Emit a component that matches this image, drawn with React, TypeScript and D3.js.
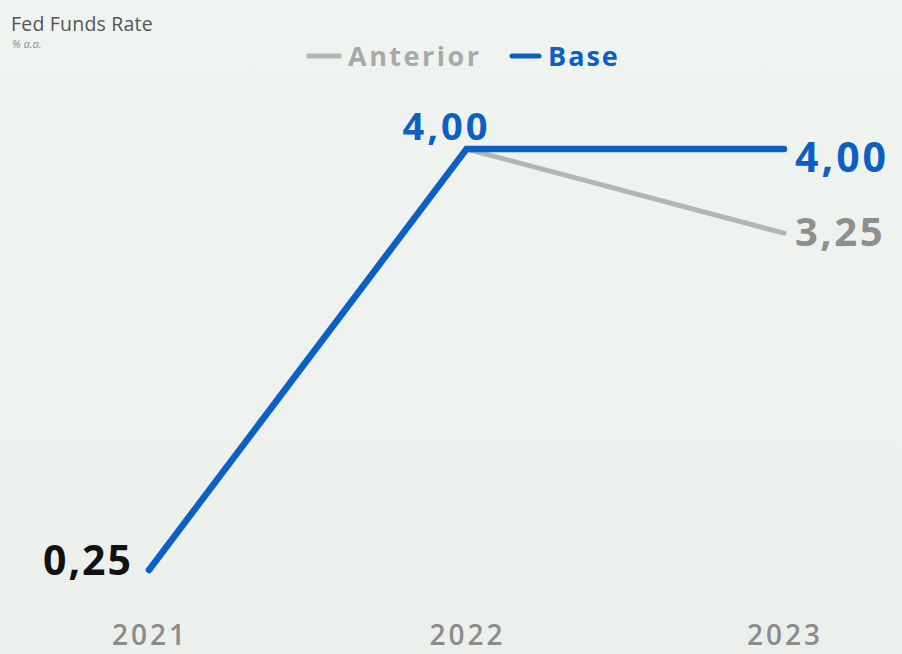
import React from "react";
import * as d3 from "d3";

const years = ["2021", "2022", "2023"];
const baseValues = [0.25, 4.0, 4.0];
const anteriorValues = [0.25, 4.0, 3.25];
const baseLabels = ["0,25", "4,00", "4,00"];
const anteriorLabels = ["", "", "3,25"];
const legendItems = ["Anterior", "Base"];

const W = 902;
const H = 654;
const BLUE = "#0c5fc4";
const GRAY = "#b4b6b4";
const FONT = "'Open Sans', 'DejaVu Sans', sans-serif";

export default function App() {
  const x = d3.scalePoint<string>().domain(years).range([149, 784]);
  const y = d3.scaleLinear().domain([0.25, 4.0]).range([570, 149]);
  const line = d3
    .line<number>()
    .x((_, i) => x(years[i]) as number)
    .y((d) => y(d));

  return (
    <svg
      width={W}
      height={H}
      style={{ position: "absolute", left: 0, top: 0, display: "block" }}
    >
      <defs>
        <linearGradient id="bg" x1="0" y1="0" x2="0" y2="1">
          <stop offset="0" stopColor="#f0f4f1" />
          <stop offset="1" stopColor="#ecf0ec" />
        </linearGradient>
      </defs>
      <rect x={0} y={0} width={W} height={H} fill="url(#bg)" />
      <text x={11} y={31} fontFamily={FONT} fontSize={19.5} fill="#555" letterSpacing={0.2}>
        Fed Funds Rate
      </text>
      <text x={12} y={48} fontFamily={FONT} fontSize={11} fill="#8a8a8a" fontStyle="italic">
        % a.a.
      </text>

      {/* legend */}
      <line x1={309} x2={339} y1={56} y2={56} stroke={GRAY} strokeWidth={5} strokeLinecap="round" />
      <text x={348} y={66} fontFamily={FONT} fontSize={27} fontWeight={700} fill="#a8aaa8" letterSpacing={2.5}>
        {legendItems[0]}
      </text>
      <line x1={512} x2={539} y1={56} y2={56} stroke={BLUE} strokeWidth={5} strokeLinecap="round" />
      <text x={548} y={66} fontFamily={FONT} fontSize={27} fontWeight={700} fill={BLUE} letterSpacing={2}>
        {legendItems[1]}
      </text>

      <path d={line(anteriorValues) || ""} fill="none" stroke={GRAY} strokeWidth={5} strokeLinecap="round" strokeLinejoin="round" />
      <path d={line(baseValues) || ""} fill="none" stroke={BLUE} strokeWidth={6.5} strokeLinecap="round" strokeLinejoin="miter" />

      {/* data labels */}
      <text x={(x("2021") as number) - 16} y={y(baseValues[0]) + 5} textAnchor="end" fontFamily={FONT} fontSize={41} fontWeight={700} fill="#111" letterSpacing={2}>
        {baseLabels[0]}
      </text>
      <text x={(x("2022") as number) - 20} y={y(baseValues[1]) - 9} textAnchor="middle" fontFamily={FONT} fontSize={38} fontWeight={700} fill={BLUE} letterSpacing={3}>
        {baseLabels[1]}
      </text>
      <text x={(x("2023") as number) + 11} y={y(baseValues[2]) + 23} textAnchor="start" fontFamily={FONT} fontSize={41} fontWeight={700} fill={BLUE} letterSpacing={3}>
        {baseLabels[2]}
      </text>
      <text x={(x("2023") as number) + 11} y={y(anteriorValues[2]) + 13} textAnchor="start" fontFamily={FONT} fontSize={40} fontWeight={700} fill="#8e908e" letterSpacing={2.5}>
        {anteriorLabels[2]}
      </text>

      {/* x axis labels */}
      {years.map((yr) => (
        <text key={yr} x={(x(yr) as number) + 1} y={645} textAnchor="middle" fontFamily={FONT} fontSize={28} fontWeight={600} fill="#8c8c8c" letterSpacing={3}>
          {yr}
        </text>
      ))}
    </svg>
  );
}
